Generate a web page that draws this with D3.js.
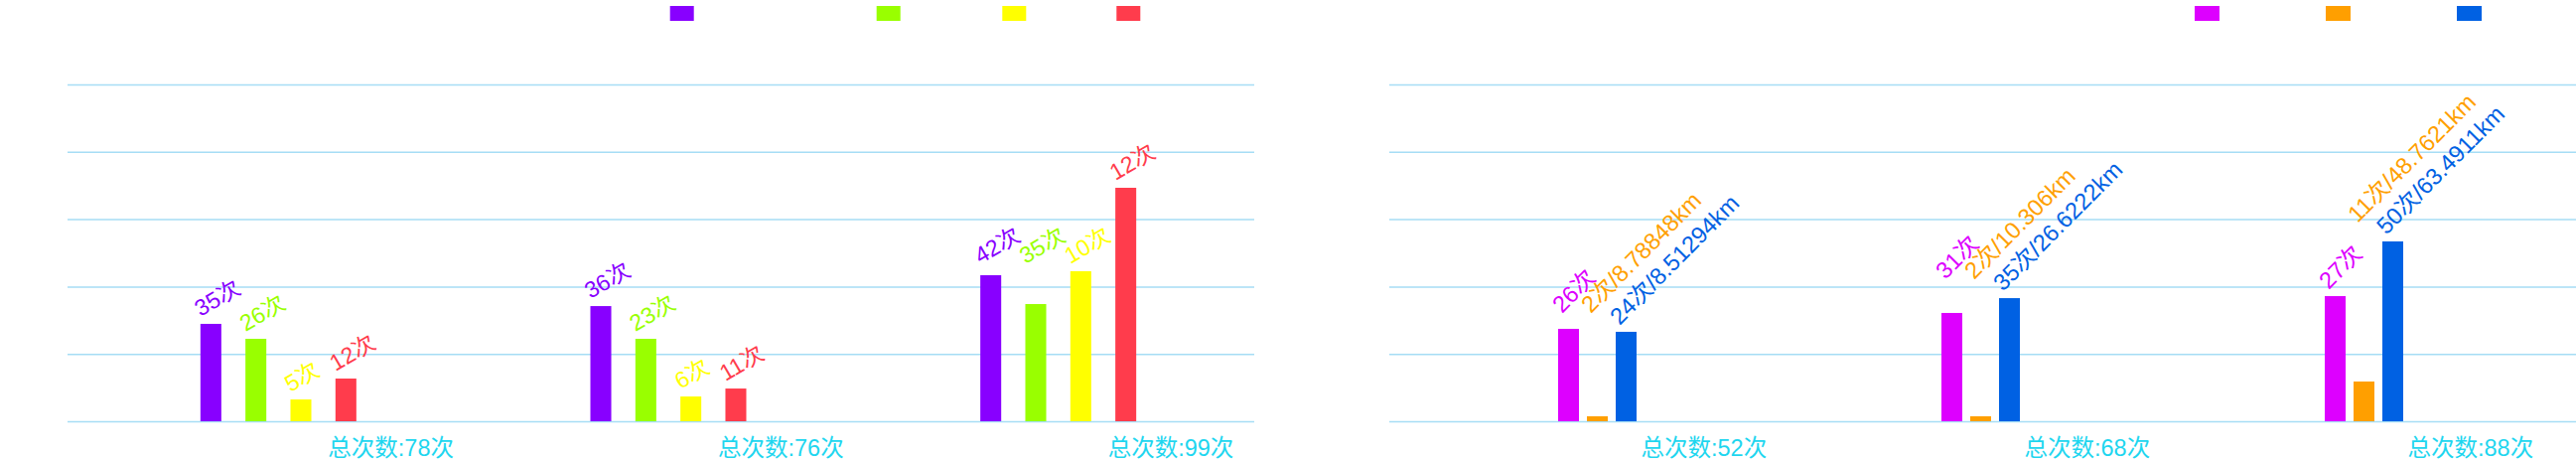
<!DOCTYPE html>
<html><head><meta charset="utf-8">
<script src="https://cdn.jsdelivr.net/npm/d3@7"></script>
<style>html,body{margin:0;padding:0;background:#fff;overflow:hidden}</style>
</head><body><svg id="c" width="2594" height="466"></svg>
<script>
// ---------- data ----------
const yTicks = [0, 50, 100, 150, 200, 250];

const leftCategories = ["总次数:78次", "总次数:76次", "总次数:99次"];
const leftSeries = ["A", "B", "C", "D"];
const leftColors = ["#8800ff", "#99ff00", "#ffff00", "#ff3c4c"];
const leftA = [72.3, 85.5, 108.4];
const leftB = [61.2, 61.2, 87.0];
const leftC = [16.2, 18.4, 111.4];
const leftD = [31.7, 24.3, 173.3];
const leftLabelA = ["35次", "36次", "42次"];
const leftLabelB = ["26次", "23次", "35次"];
const leftLabelC = ["5次", "6次", "10次"];
const leftLabelD = ["12次", "11次", "12次"];

const rightCategories = ["总次数:52次", "总次数:68次", "总次数:88次"];
const rightSeries = ["E", "F", "G"];
const rightColors = ["#dd00ff", "#ff9f00", "#0061e3"];
const rightE = [68.6, 80.4, 92.9];
const rightF = [3.7, 3.7, 29.5];
const rightG = [66.4, 91.4, 133.5];
const rightLabelE = ["26次", "31次", "27次"];
const rightLabelF = ["2次/8.78848km", "2次/10.306km", "11次/48.7621km"];
const rightLabelG = ["24次/8.51294km", "35次/26.6222km", "50次/63.4911km"];

// ---------- layout ----------
const svg = d3.select("#c");
const FONT = "'Liberation Sans','Noto Sans CJK SC',sans-serif";
const GRID = "#a6ddf5";

function drawChart(cfg) {
  const g = svg.append("g");
  const y = d3.scaleLinear().domain([0, 250]).range([424, 85]);
  const x0 = d3.scaleBand().domain(cfg.categories).range(cfg.bandRange).paddingInner(0).paddingOuter(0);
  const x1 = d3.scaleBand().domain(cfg.series).range([-cfg.groupW / 2, cfg.groupW / 2])
    .paddingInner(cfg.inner).paddingOuter(0);

  // grid
  const ax = g.append("g").attr("transform", `translate(${cfg.grid[0]},0)`)
    .call(d3.axisLeft(y).tickValues(yTicks).tickSize(-(cfg.grid[1] - cfg.grid[0])).tickFormat(""));
  ax.select(".domain").remove();
  ax.selectAll(".tick line").attr("stroke", GRID).attr("stroke-width", 1.5);

  // bars
  const rows = [];
  cfg.categories.forEach((c, ci) => {
    cfg.series.forEach((s, si) => {
      rows.push({c, ci, s, si, v: cfg.values[si][ci], lab: cfg.labels[si][ci], color: cfg.colors[si]});
    });
  });
  g.selectAll("rect.bar").data(rows).join("rect").attr("class", "bar")
    .attr("x", d => x0(d.c) + x0.bandwidth() / 2 + x1(d.s))
    .attr("width", x1.bandwidth())
    .attr("y", d => y(d.v))
    .attr("height", d => y(0) - y(d.v))
    .attr("fill", d => d.color);

  // value labels
  const th = cfg.rot * Math.PI / 180;
  const fs = cfg.fs;
  rows.forEach(d => {
    d.ax = x0(d.c) + x0.bandwidth() / 2 + x1(d.s) + cfg.labDx;
    d.ay = y(d.v) - cfg.labDy;
  });
  const texts = g.selectAll("text.val").data(rows).join("text").attr("class", "val")
    .attr("font-family", FONT).attr("font-size", fs)
    .attr("fill", d => d.color).text(d => d.lab);
  texts.each(function (d) { d.L = this.getComputedTextLength(); });
  function box(d) {
    const pts = [[0, 0.12 * fs], [d.L, 0.12 * fs], [0, -0.88 * fs], [d.L, -0.88 * fs]].map(([px, py]) =>
      [d.ax + px * Math.cos(th) + py * Math.sin(th), d.ay - px * Math.sin(th) + py * Math.cos(th)]);
    return {x0: d3.min(pts, p => p[0]), x1: d3.max(pts, p => p[0]), y0: d3.min(pts, p => p[1]), y1: d3.max(pts, p => p[1])};
  }
  // simple overlap handling: a label colliding with its right neighbour is lifted to that neighbour's level
  cfg.categories.forEach((c, ci) => {
    const grp = rows.filter(r => r.ci === ci);
    for (let i = grp.length - 2; i >= 0; i--) {
      const cur = grp[i], nb = grp[i + 1];
      const shorter = cur.v < nb.v;
      const pad = shorter ? cfg.padY : 0;
      const a = box(cur), b = box(nb);
      const hit = a.x0 < b.x1 && a.x1 > b.x0 && a.y0 < b.y1 + pad && a.y1 > b.y0;
      if (hit) cur.ay = Math.min(cur.ay, nb.ay - (shorter ? cfg.liftGap : 0));
    }
  });
  texts.attr("transform", d => `translate(${d.ax},${d.ay}) rotate(${-cfg.rot})`);

  // category labels
  g.selectAll("text.cat").data(cfg.categories).join("text").attr("class", "cat")
    .attr("x", d => x0(d) + x0.bandwidth() / 2 + cfg.catDx)
    .attr("y", 459)
    .attr("font-family", FONT).attr("font-size", 23.5).attr("fill", "#1ed6ef")
    .text(d => d);

  // legend (item text is not visible in the reference)
  let lx = cfg.legendX;
  cfg.series.forEach((s, i) => {
    g.append("rect").attr("x", lx).attr("y", 6).attr("width", cfg.legendW).attr("height", 15)
      .attr("fill", cfg.colors[i]);
    lx += cfg.legendSteps[i] || 0;
  });
}

drawChart({
  categories: leftCategories, series: leftSeries, colors: leftColors,
  values: [leftA, leftB, leftC, leftD],
  labels: [leftLabelA, leftLabelB, leftLabelC, leftLabelD],
  grid: [68, 1263], bandRange: [84, 1262], groupW: 157, inner: 0.536,
  rot: 30, fs: 23, labDx: 0, labDy: 7, liftGap: 0, padY: 0, catDx: 50,
  legendX: 674.7, legendW: 24, legendSteps: [208, 126.6, 115]
});
drawChart({
  categories: rightCategories, series: rightSeries, colors: rightColors,
  values: [rightE, rightF, rightG],
  labels: [rightLabelE, rightLabelF, rightLabelG],
  grid: [1399, 2594], bandRange: [1415.5, 2573.5], groupW: 79, inner: 0.276,
  rot: 45, fs: 23.5, labDx: 4, labDy: 6, liftGap: 12, padY: 20, catDx: 44,
  legendX: 2210, legendW: 25, legendSteps: [132, 132]
});
</script></body></html>
